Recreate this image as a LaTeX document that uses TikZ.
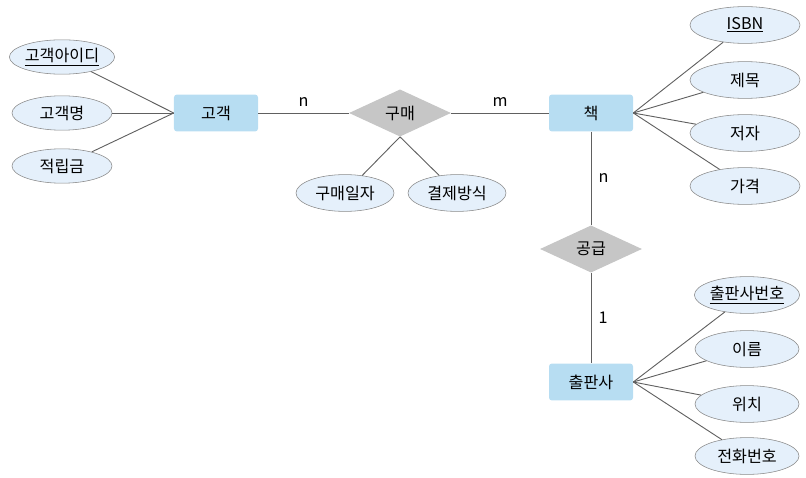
\documentclass[tikz,border=0pt]{standalone}
\usepackage{fontspec}
\newfontfamily\kr{Noto Sans CJK KR}
\usetikzlibrary{shapes.geometric}
\definecolor{entfill}{HTML}{B7DDF2}
\definecolor{attfill}{HTML}{E5F0FB}
\definecolor{attline}{HTML}{8A8A8A}
\definecolor{relfill}{HTML}{C6C6C6}
\definecolor{linkc}{HTML}{606060}
\newcommand\erfont{\kr\fontsize{11.5}{13}\selectfont}
\tikzset{
  entity/.style={fill=entfill,rounded corners=2pt,minimum width=2.1cm,minimum height=0.92cm,inner sep=1pt,font=\erfont},
  relation/.style={diamond,fill=relfill,minimum width=2.55cm,minimum height=1.18cm,inner sep=0pt,font=\erfont},
  attribute/.style={ellipse,draw=attline,fill=attfill,minimum width=2.6cm,minimum height=0.92cm,inner sep=0pt,font=\erfont},
  link/.style={draw=linkc,line width=0.65pt},
  card/.style={font=\erfont,inner sep=2pt}
}

\begin{document}
\begin{tikzpicture}[x=0.025cm,y=-0.025cm]
  \useasboundingbox (0,0) rectangle (806,478);
  % entities and relations
  \node[entity] (cust) at (216,113) {고객};
  \node[relation] (buy) at (400,113) {구매};
  \node[entity] (book) at (591,113) {책};
  \node[relation] (supply) at (591,249) {공급};
  \node[entity] (pub) at (591,382) {출판사};
  % attributes
  \node[attribute,minimum width=2.5cm,minimum height=0.86cm] (cid) at (62,57) {\underline{고객아이디}};
  \node[attribute,minimum width=2.5cm,minimum height=0.86cm] (cname) at (62,113) {고객명};
  \node[attribute,minimum width=2.5cm,minimum height=0.86cm] (cpoint) at (62,166) {적립금};
  \node[attribute,minimum width=2.45cm] (bdate) at (345,193) {구매일자};
  \node[attribute,minimum width=2.45cm] (bpay) at (457,193) {결제방식};
  \node[attribute,minimum width=2.75cm] (isbn) at (745,25) {\underline{ISBN}};
  \node[attribute,minimum width=2.75cm] (title) at (745,80) {제목};
  \node[attribute,minimum width=2.75cm] (author) at (745,133) {저자};
  \node[attribute,minimum width=2.75cm] (price) at (745,186) {가격};
  \node[attribute,minimum width=2.6cm] (pno) at (747,295) {\underline{출판사번호}};
  \node[attribute,minimum width=2.6cm] (pname) at (747,349) {이름};
  \node[attribute,minimum width=2.6cm] (ploc) at (747,404) {위치};
  \node[attribute,minimum width=2.6cm] (ptel) at (747,456) {전화번호};
  % connectors
  \path[link] (cust) -- node[card,above=2pt] {n} (buy);
  \path[link] (buy) -- node[card,above=2pt] {m} (book);
  \path[link] (book) -- node[card,right=3pt] {n} (supply);
  \path[link] (supply) -- node[card,right=3pt] {1} (pub);
  \foreach \a in {cid,cname,cpoint}
    \path[link] (\a) -- (cust.west);
  \foreach \a in {bdate,bpay}
    \path[link] (buy.south) -- (\a);
  \foreach \a in {isbn,title,author,price}
    \path[link] (book.east) -- (\a);
  \foreach \a in {pno,pname,ploc,ptel}
    \path[link] (pub.east) -- (\a);
\end{tikzpicture}
\end{document}
